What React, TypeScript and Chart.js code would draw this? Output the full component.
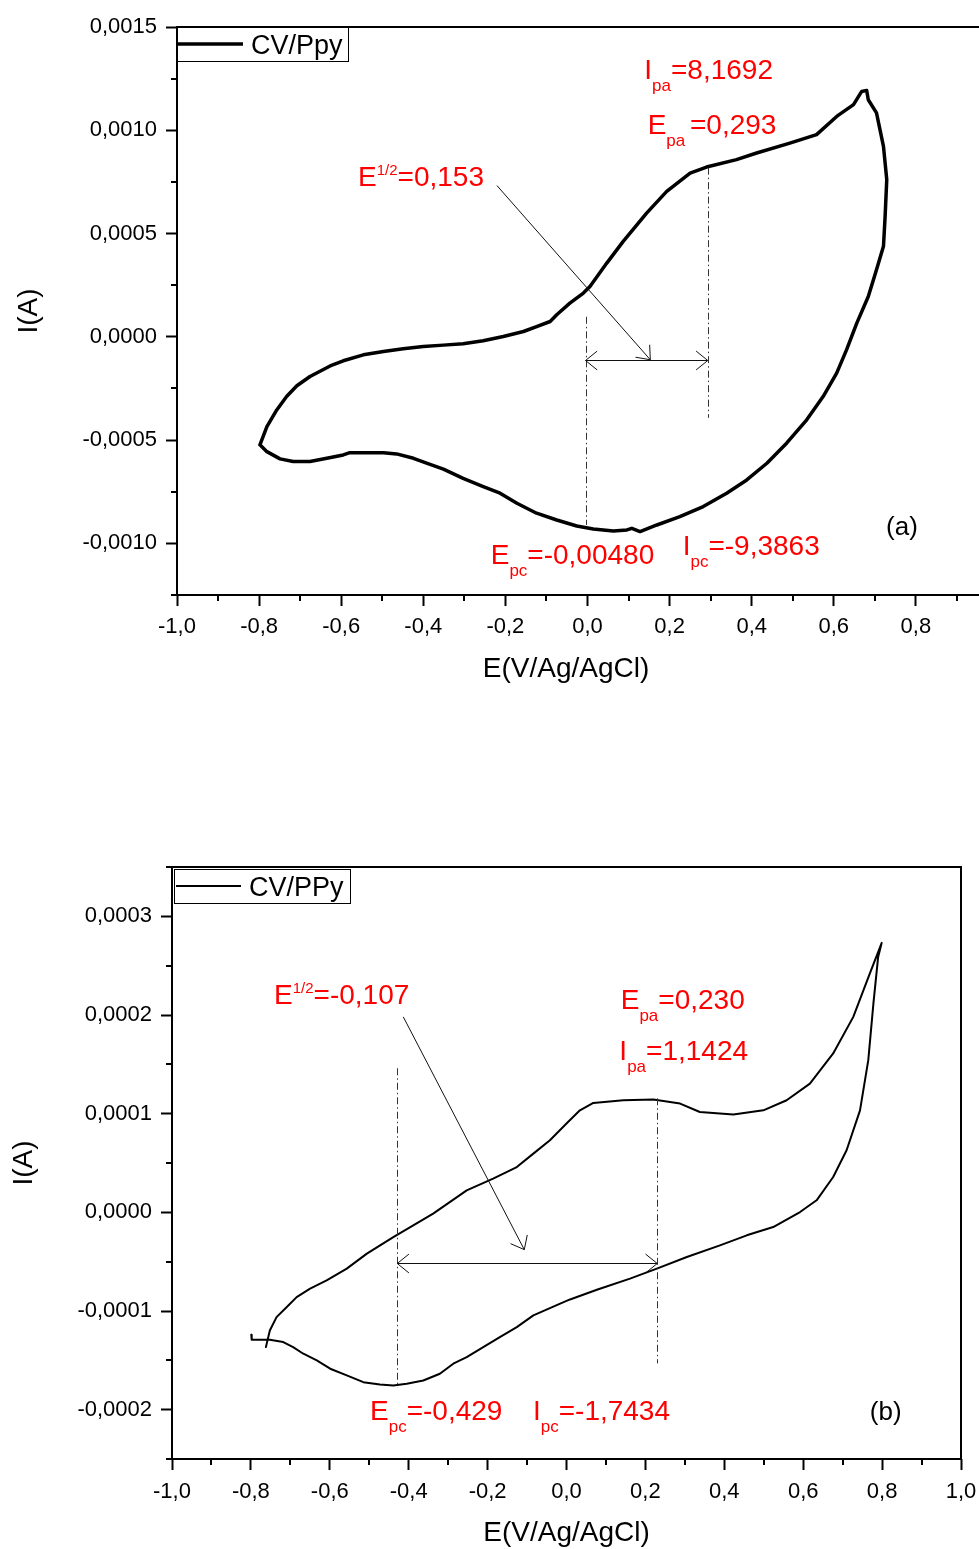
import React, { useEffect, useRef } from "react";
import { Chart, registerables } from "chart.js";

Chart.register(...registerables);

const FONT = '"Liberation Sans", Arial, Helvetica, sans-serif';

// ---------- Panel (a): CV/Ppy ----------
const A_E = [
  -0.798, -0.781, -0.757, -0.733, -0.708, -0.676, -0.627, -0.595, -0.546, -0.497,
  -0.449, -0.400, -0.351, -0.303, -0.254, -0.205, -0.156, -0.124, -0.091, -0.075,
  -0.043, -0.010, 0.006, 0.047, 0.087, 0.144, 0.193, 0.250, 0.290, 0.363,
  0.412, 0.493, 0.558, 0.607, 0.648, 0.668, 0.680, 0.684, 0.704, 0.721,
  0.729, 0.725, 0.721, 0.704, 0.684, 0.656, 0.631, 0.607, 0.574, 0.534,
  0.485, 0.437, 0.388, 0.339, 0.282, 0.225, 0.169, 0.128, 0.108, 0.096,
  0.063, 0.014, -0.026, -0.075, -0.124, -0.148, -0.172, -0.213, -0.254, -0.303,
  -0.351, -0.392, -0.424, -0.465, -0.497, -0.579, -0.595, -0.635, -0.676, -0.717,
  -0.749, -0.781, -0.798,
];
const A_I = [
  -0.000523, -0.000435, -0.000354, -0.000289, -0.000237, -0.000192, -0.000141, -0.000116, -0.0000872, -0.0000712,
  -0.0000581, -0.000047, -0.0000402, -0.0000339, -0.0000194, 0.0000015, 0.0000257, 0.0000499, 0.0000741, 0.000107,
  0.000163, 0.000212, 0.000244, 0.000357, 0.000462, 0.000599, 0.000704, 0.000793, 0.000822, 0.000858,
  0.00089, 0.000938, 0.000979, 0.001067, 0.001124, 0.001188, 0.001193, 0.001148, 0.001084, 0.000922,
  0.000761, 0.000583, 0.000438, 0.000325, 0.000195, 0.0000664, -0.000063, -0.000176, -0.000289, -0.000402,
  -0.000515, -0.000612, -0.000693, -0.000757, -0.000822, -0.000871, -0.000911, -0.000943, -0.000927, -0.000935,
  -0.00094, -0.00093, -0.000916, -0.000887, -0.000854, -0.00083, -0.000806, -0.000757, -0.000725, -0.000685,
  -0.000641, -0.000612, -0.000588, -0.000567, -0.000561, -0.000561, -0.000572, -0.000588, -0.000604, -0.000604,
  -0.000591, -0.000556, -0.000523,
];

// ---------- Panel (b): CV/PPy ----------
const B_E = [
  -0.799, -0.798, -0.752, -0.718, -0.693, -0.667, -0.633, -0.599, -0.557, -0.515,
  -0.473, -0.439, -0.405, -0.363, -0.321, -0.287, -0.253, -0.211, -0.169, -0.126,
  -0.084, -0.016, 0.009, 0.077, 0.161, 0.229, 0.305, 0.389, 0.457, 0.524,
  0.592, 0.634, 0.676, 0.71, 0.744, 0.765, 0.778, 0.79, 0.799,
  0.769, 0.727, 0.676, 0.617, 0.558, 0.499, 0.423, 0.338, 0.288, 0.22,
  0.144, 0.068, 0.034, 0.0, -0.042, -0.084, -0.126, -0.186, -0.253, -0.338,
  -0.439, -0.506, -0.557, -0.608, -0.65, -0.684, -0.709, -0.735, -0.752, -0.762,
];
const B_I = [
  -0.000124, -0.0001291, -0.0001291, -0.0001315, -0.0001366, -0.0001433, -0.0001501, -0.0001585, -0.0001653, -0.0001721,
  -0.0001744, -0.0001755, -0.0001737, -0.0001704, -0.0001636, -0.0001534, -0.0001468, -0.0001366, -0.0001265, -0.0001163,
  -0.0001045, -0.0000926, -0.0000883, -0.0000785, -0.0000672, -0.0000571, -0.0000453, -0.0000335, -0.0000233, -0.0000149,
  0.0000003, 0.0000122, 0.0000358, 0.0000629, 0.0001034, 0.0001542, 0.0002117, 0.0002589, 0.0002731,
  0.0002421, 0.0001981, 0.000161, 0.0001305, 0.0001136, 0.0001034, 0.0000991, 0.0001017, 0.0001102, 0.0001143,
  0.0001136, 0.0001109, 0.0001034, 0.00009, 0.000073, 0.0000595, 0.0000459, 0.0000342, 0.0000223, -0.0000013,
  -0.0000251, -0.0000419, -0.0000571, -0.000069, -0.0000774, -0.0000859, -0.000096, -0.0001062, -0.0001197, -0.0001366,
];

// ---------- Axes ----------
const X_TICKS = [-1, -0.8, -0.6, -0.4, -0.2, 0, 0.2, 0.4, 0.6, 0.8, 1.0];
const X_MINOR = [-0.9, -0.7, -0.5, -0.3, -0.1, 0.1, 0.3, 0.5, 0.7, 0.9];
const A_Y_TICKS = [-0.001, -0.0005, 0, 0.0005, 0.001, 0.0015];
const A_Y_MINOR = [-0.00125, -0.00075, -0.00025, 0.00025, 0.00075, 0.00125];
const B_Y_TICKS = [-0.0002, -0.0001, 0, 0.0001, 0.0002, 0.0003];
const B_Y_MINOR = [-0.00025, -0.00015, -0.00005, 0.00005, 0.00015, 0.00025, 0.00035];

// ---------- Annotation values ----------
const A_EPC = -0.0048;
const A_EPA = 0.293;
const A_EHALF = 0.153;
const B_EPC = -0.429;
const B_EPA = 0.23;
const B_EHALF = -0.107;

type Part = { t: string; k?: "sub" | "sup" };
type Lab = { x: number; y: number; parts: Part[]; color?: string; size?: number };
type VLine = { x: number; y1: number; y2: number };
type Seg = { x1: number; y1: number; x2: number; y2: number };

const RED = "#ff0000";

const A_LABELS: Lab[] = [
  { x: -0.559, y: 0.000732, parts: [{ t: "E" }, { t: "1/2", k: "sup" }, { t: "=0,153" }] },
  { x: 0.1384, y: 0.001249, parts: [{ t: "I" }, { t: "pa", k: "sub" }, { t: "=8,1692" }] },
  { x: 0.1466, y: 0.000984, parts: [{ t: "E" }, { t: "pa ", k: "sub" }, { t: "=0,293" }] },
  { x: -0.2358, y: -0.001101, parts: [{ t: "E" }, { t: "pc", k: "sub" }, { t: "=-0,00480" }] },
  { x: 0.2319, y: -0.001058, parts: [{ t: "I" }, { t: "pc", k: "sub" }, { t: "=-9,3863" }] },
  { x: 0.7272, y: -0.000959, parts: [{ t: "(a)" }], color: "#000", size: 26 },
];
const B_LABELS: Lab[] = [
  { x: -0.7414, y: 0.000211, parts: [{ t: "E" }, { t: "1/2", k: "sup" }, { t: "=-0,107" }] },
  { x: 0.1374, y: 0.0002056, parts: [{ t: "E" }, { t: "pa", k: "sub" }, { t: "=0,230" }] },
  { x: 0.134, y: 0.0001542, parts: [{ t: "I" }, { t: "pa", k: "sub" }, { t: "=1,1424" }] },
  { x: -0.498, y: -0.0002103, parts: [{ t: "E" }, { t: "pc", k: "sub" }, { t: "=-0,429" }] },
  { x: -0.085, y: -0.0002103, parts: [{ t: "I" }, { t: "pc", k: "sub" }, { t: "=-1,7434" }] },
  { x: 0.769, y: -0.00021, parts: [{ t: "(b)" }], color: "#000", size: 26 },
];

interface Panel {
  E: number[];
  I: number[];
  label: string;
  lineWidth: number;
  yMin: number;
  yMax: number;
  yTicks: number[];
  yMinor: number[];
  canvasW: number;
  canvasH: number;
  top: number;
  plotLeft: number;
  plotTop: number;
  plotRight: number;
  plotBottom: number;
  xLabelPad: number;
  legend: { dx: number; dy: number; w: number; h: number; l0: number; l1: number; tx: number };
  xTitleDx: number;
  yTitleDx: number;
  vlines: VLine[];
  darrow: Seg;
  arrow: Seg;
  labels: Lab[];
}

const PANEL_A: Panel = {
  E: A_E,
  I: A_I,
  label: "CV/Ppy",
  lineWidth: 3.5,
  yMin: -0.00125,
  yMax: 0.0015,
  yTicks: A_Y_TICKS,
  yMinor: A_Y_MINOR,
  canvasW: 1030,
  canvasH: 700,
  top: 0,
  plotLeft: 177,
  plotTop: 27,
  plotRight: 998,
  plotBottom: 595,
  xLabelPad: 8,
  legend: { dx: 0, dy: 0, w: 171, h: 34, l0: 1, l1: 66, tx: 74 },
  xTitleDx: 389,
  yTitleDx: -148,
  vlines: [
    { x: A_EPC, y1: 0.0000969, y2: -0.000911 },
    { x: A_EPA, y1: 0.000819, y2: -0.000392 },
  ],
  darrow: { x1: A_EPC, y1: -0.000111, x2: A_EPA, y2: -0.000111 },
  arrow: { x1: -0.2205, y1: 0.000732, x2: A_EHALF, y2: -0.000111 },
  labels: A_LABELS,
};

const PANEL_B: Panel = {
  E: B_E,
  I: B_I,
  label: "CV/PPy",
  lineWidth: 2,
  yMin: -0.00025,
  yMax: 0.00035,
  yTicks: B_Y_TICKS,
  yMinor: B_Y_MINOR,
  canvasW: 1010,
  canvasH: 749,
  top: 800,
  plotLeft: 172,
  plotTop: 867,
  plotRight: 961,
  plotBottom: 1459,
  xLabelPad: 9,
  legend: { dx: 2, dy: 2, w: 176, h: 34, l0: 2, l1: 67, tx: 75 },
  xTitleDx: 394.5,
  yTitleDx: -148,
  vlines: [
    { x: B_EPC, y1: 0.000146, y2: -0.0001775 },
    { x: B_EPA, y1: 0.0001156, y2: -0.0001531 },
  ],
  darrow: { x1: B_EPC, y1: -0.0000517, x2: B_EPA, y2: -0.0000517 },
  arrow: { x1: -0.4137, y1: 0.0001981, x2: B_EHALF, y2: -0.0000378 },
  labels: B_LABELS,
};

const fmtX = (v: number) => (Math.abs(v) < 1e-9 ? 0 : v).toFixed(1).replace(".", ",");
const fmtY = (v: number) => (Math.abs(v) < 1e-12 ? 0 : v).toFixed(4).replace(".", ",");

function arrowHead(ctx: CanvasRenderingContext2D, x1: number, y1: number, x2: number, y2: number) {
  const len = 15;
  const ang = 0.68;
  const a = Math.atan2(y2 - y1, x2 - x1);
  ctx.beginPath();
  ctx.moveTo(x2 - len * Math.cos(a - ang), y2 - len * Math.sin(a - ang));
  ctx.lineTo(x2, y2);
  ctx.lineTo(x2 - len * Math.cos(a + ang), y2 - len * Math.sin(a + ang));
  ctx.stroke();
}

function drawRich(ctx: CanvasRenderingContext2D, x: number, y: number, lab: Lab) {
  const size = lab.size ?? 28;
  ctx.fillStyle = lab.color ?? RED;
  ctx.textAlign = "left";
  ctx.textBaseline = "alphabetic";
  let cx = x;
  for (const p of lab.parts) {
    const fs = p.k === "sub" ? 17 : p.k === "sup" ? 15 : size;
    const dy = p.k === "sub" ? 12 : p.k === "sup" ? -11 : 0;
    ctx.font = `${fs}px ${FONT}`;
    ctx.fillText(p.t, cx, y + dy);
    cx += ctx.measureText(p.t).width;
  }
}

function overlay(p: Panel) {
  return {
    id: "overlay",
    afterDraw(chart: any) {
      const ctx: CanvasRenderingContext2D = chart.ctx;
      const ca = chart.chartArea;
      const X = (v: number) => chart.scales.x.getPixelForValue(v);
      const Y = (v: number) => chart.scales.y.getPixelForValue(v);
      ctx.save();

      // minor ticks
      ctx.strokeStyle = "#000";
      ctx.lineWidth = 2;
      ctx.beginPath();
      for (const v of X_MINOR) {
        const px = Math.round(X(v));
        ctx.moveTo(px, ca.bottom);
        ctx.lineTo(px, ca.bottom + 6);
      }
      for (const v of p.yMinor) {
        const py = Math.round(Y(v));
        ctx.moveTo(ca.left, py);
        ctx.lineTo(ca.left - 6, py);
      }
      ctx.stroke();

      // frame
      ctx.strokeRect(ca.left, ca.top, ca.right - ca.left, ca.bottom - ca.top);

      // dash-dot vertical lines
      ctx.strokeStyle = "#333";
      ctx.lineWidth = 1;
      ctx.setLineDash([7, 3, 1.5, 3]);
      for (const l of p.vlines) {
        const px = Math.round(X(l.x)) + 0.5;
        ctx.beginPath();
        ctx.moveTo(px, Y(l.y1));
        ctx.lineTo(px, Y(l.y2));
        ctx.stroke();
      }
      ctx.setLineDash([]);

      // double arrow
      ctx.strokeStyle = "#111";
      const d = p.darrow;
      const dx1 = X(d.x1), dx2 = X(d.x2), dy = Math.round(Y(d.y1)) + 0.5;
      ctx.beginPath();
      ctx.moveTo(dx1, dy);
      ctx.lineTo(dx2, dy);
      ctx.stroke();
      arrowHead(ctx, dx2, dy, dx1, dy);
      arrowHead(ctx, dx1, dy, dx2, dy);

      // diagonal arrow
      const a = p.arrow;
      const ax1 = X(a.x1), ay1 = Y(a.y1), ax2 = X(a.x2), ay2 = Y(a.y2);
      ctx.beginPath();
      ctx.moveTo(ax1, ay1);
      ctx.lineTo(ax2, ay2);
      ctx.stroke();
      arrowHead(ctx, ax1, ay1, ax2, ay2);

      // labels
      for (const lab of p.labels) drawRich(ctx, X(lab.x), Y(lab.y), lab);

      // legend
      const lg = p.legend;
      const bx = ca.left + lg.dx, by = ca.top + lg.dy;
      ctx.fillStyle = "#fff";
      ctx.fillRect(bx, by, lg.w, lg.h);
      ctx.strokeStyle = "#000";
      ctx.lineWidth = 1;
      ctx.strokeRect(bx + 0.5, by + 0.5, lg.w, lg.h);
      ctx.lineWidth = p.lineWidth;
      ctx.beginPath();
      ctx.moveTo(bx + lg.l0, by + lg.h / 2);
      ctx.lineTo(bx + lg.l1, by + lg.h / 2);
      ctx.stroke();
      ctx.fillStyle = "#000";
      ctx.font = `27px ${FONT}`;
      ctx.textAlign = "left";
      ctx.textBaseline = "alphabetic";
      ctx.fillText(chart.data.datasets[0].label, bx + lg.tx, by + 27);

      // axis titles
      ctx.font = `28px ${FONT}`;
      ctx.textAlign = "center";
      ctx.fillText("E(V/Ag/AgCl)", ca.left + p.xTitleDx, ca.bottom + 82);
      ctx.save();
      ctx.translate(ca.left + p.yTitleDx, (ca.top + ca.bottom) / 2);
      ctx.rotate(-Math.PI / 2);
      ctx.textBaseline = "middle";
      ctx.fillText("I(A)", 0, 0);
      ctx.restore();

      ctx.restore();
    },
  };
}

function CVChart({ p }: { p: Panel }) {
  const ref = useRef<HTMLCanvasElement | null>(null);
  useEffect(() => {
    if (!ref.current) return;
    const n = Math.min(p.E.length, p.I.length);
    const pts = [] as { x: number; y: number }[];
    for (let i = 0; i < n; i++) pts.push({ x: p.E[i], y: p.I[i] });
    const tickFont = { family: FONT, size: 22 };
    const chart = new Chart(ref.current, {
      type: "scatter",
      data: {
        datasets: [
          {
            label: p.label,
            data: pts,
            showLine: true,
            borderColor: "#000",
            backgroundColor: "#000",
            borderWidth: p.lineWidth,
            pointRadius: 0,
            pointHoverRadius: 0,
            tension: 0,
            borderJoinStyle: "round",
            borderCapStyle: "round",
          } as any,
        ],
      },
      options: {
        animation: false,
        responsive: false,
        devicePixelRatio: 1,
        events: [],
        layout: {
          padding: { left: 0, top: p.plotTop - p.top, right: p.canvasW - p.plotRight, bottom: 0 },
        },
        plugins: {
          legend: { display: false },
          tooltip: { enabled: false },
          title: { display: false },
        },
        scales: {
          x: {
            type: "linear",
            position: "bottom",
            min: -1,
            max: 1,
            afterBuildTicks: (s: any) => {
              s.ticks = X_TICKS.map((v) => ({ value: v }));
            },
            afterFit: (s: any) => {
              s.height = p.canvasH - (p.plotBottom - p.top);
            },
            ticks: {
              autoSkip: false,
              maxRotation: 0,
              minRotation: 0,
              padding: p.xLabelPad,
              color: "#000",
              font: tickFont,
              callback: (v: any) => fmtX(Number(v)),
            },
            grid: {
              display: true,
              drawOnChartArea: false,
              drawTicks: true,
              tickLength: 11,
              tickWidth: 2,
              tickColor: "#000",
              color: "#000",
            },
            border: { display: false },
          },
          y: {
            type: "linear",
            position: "left",
            min: p.yMin,
            max: p.yMax,
            afterBuildTicks: (s: any) => {
              s.ticks = p.yTicks.map((v) => ({ value: v }));
            },
            afterFit: (s: any) => {
              s.width = p.plotLeft;
            },
            ticks: {
              autoSkip: false,
              padding: 9,
              color: "#000",
              font: tickFont,
              callback: (v: any) => fmtY(Number(v)),
            },
            grid: {
              display: true,
              drawOnChartArea: false,
              drawTicks: true,
              tickLength: 11,
              tickWidth: 2,
              tickColor: "#000",
              color: "#000",
            },
            border: { display: false },
          },
        },
      } as any,
      plugins: [overlay(p)],
    });
    return () => chart.destroy();
  }, [p]);
  return (
    <div style={{ position: "absolute", left: 0, top: p.top, width: p.canvasW, height: p.canvasH }}>
      <canvas
        ref={ref}
        width={p.canvasW}
        height={p.canvasH}
        style={{ display: "block", width: p.canvasW, height: p.canvasH }}
      />
    </div>
  );
}

export default function App() {
  return (
    <div
      style={{
        position: "absolute",
        left: 0,
        top: 0,
        width: 979,
        height: 1549,
        overflow: "hidden",
        background: "#fff",
      }}
    >
      <CVChart p={PANEL_A} />
      <CVChart p={PANEL_B} />
    </div>
  );
}
